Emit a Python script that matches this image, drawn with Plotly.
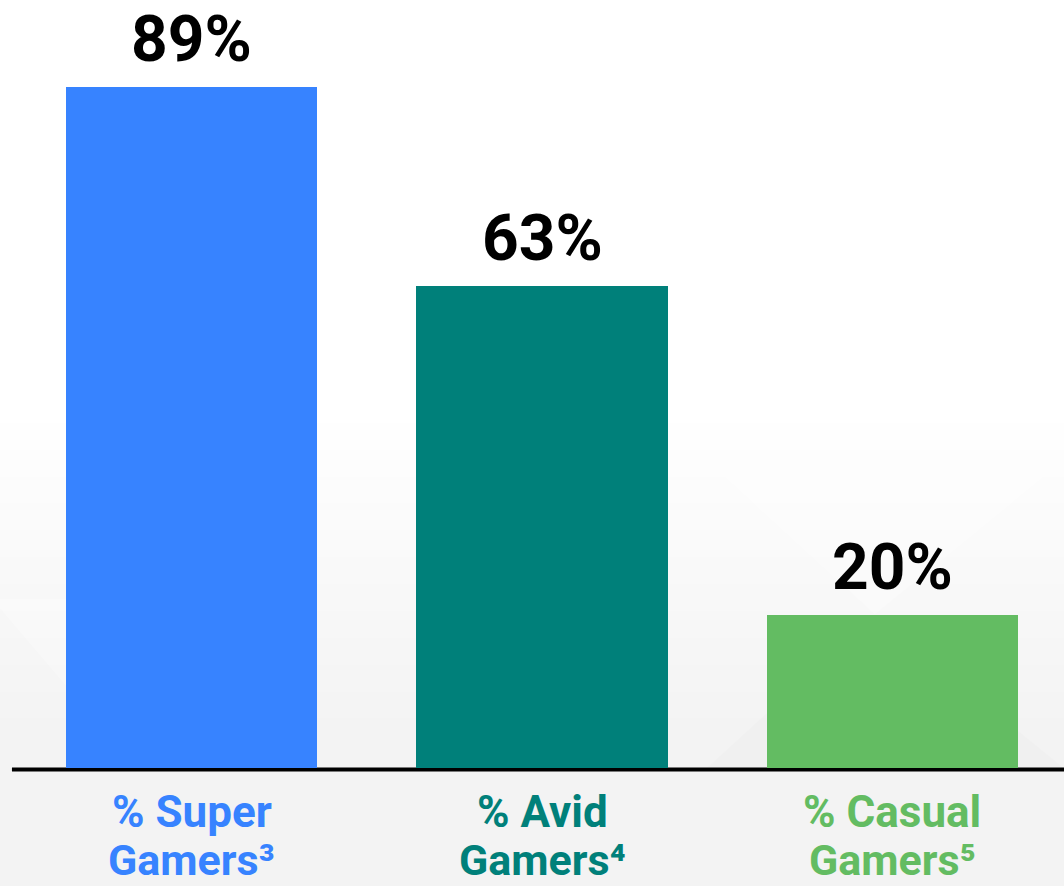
import plotly.graph_objects as go

categories = ["Super", "Avid", "Casual"]
values = [89, 63, 20]
line1_labels = ["% Super", "% Avid", "% Casual"]
line2_labels = ["Gamers³", "Gamers⁴", "Gamers⁵"]
value_labels = ["89%", "63%", "20%"]
colors = ["#3783FF", "#00807A", "#63BC62"]

W, H = 1064, 886
fig = go.Figure()
fig.add_trace(go.Bar(
    x=categories, y=values, width=0.717,
    marker=dict(color=colors, line=dict(width=0)),
    hoverinfo="skip", showlegend=False,
))

annotations = []
for c, v, t in zip(categories, values, value_labels):
    annotations.append(dict(x=c, y=v, xref="x", yref="y", text=t, showarrow=False,
                            yanchor="bottom", yshift=8,
                            font=dict(family="Roboto", size=64, color="#000000", weight="bold")))
for c, l1, l2, col in zip(categories, line1_labels, line2_labels, colors):
    annotations.append(dict(x=c, y=0, xref="x", yref="paper", text=l1, showarrow=False,
                            yanchor="top", yshift=-16,
                            font=dict(family="Roboto", size=44, color=col, weight="bold")))
    annotations.append(dict(x=c, y=0, xref="x", yref="paper", text=l2, showarrow=False,
                            yanchor="top", yshift=-66, borderpad=0,
                            font=dict(family="Roboto", size=43, color=col, weight="bold")))

shapes = []
# soft grey wash in the lower part of the background (stacked translucent bands)
for i in range(12):
    top = 0.45 - i * 0.035
    shapes.append(dict(type="rect", xref="paper", yref="paper", x0=-0.02, x1=1.0,
                       y0=-0.16, y1=top, fillcolor="rgba(0,0,0,0.0045)",
                       line=dict(width=0), layer="below"))
# faint diagonal facets
shapes += [
    dict(type="path", xref="paper", yref="paper",
         path="M 0.62 0.45 L 0.82 0.20 L 1.0 0.40 L 1.0 0.45 Z",
         fillcolor="rgba(255,255,255,0.25)", line=dict(width=0), layer="below"),
    dict(type="path", xref="paper", yref="paper",
         path="M 0.66 0.0 L 0.82 0.20 L 1.0 0.0 Z",
         fillcolor="rgba(0,0,0,0.012)", line=dict(width=0), layer="below"),
    dict(type="path", xref="paper", yref="paper",
         path="M -0.02 0.22 L 0.08 0.06 L 0.20 0.22 Z",
         fillcolor="rgba(255,255,255,0.25)", line=dict(width=0), layer="below"),
    # baseline
    dict(type="line", xref="paper", yref="paper", x0=-0.001, x1=1.0, y0=-0.002, y1=-0.002,
         line=dict(color="#000000", width=4), layer="below"),
]

fig.update_layout(
    width=W, height=H,
    margin=dict(l=13, r=0, t=0, b=118),
    paper_bgcolor="#ffffff", plot_bgcolor="rgba(0,0,0,0)",
    bargap=0,
    xaxis=dict(range=[-0.51, 2.49], showticklabels=False, showgrid=False, zeroline=False,
               showline=False, ticks="", fixedrange=True),
    yaxis=dict(range=[0, 100.37], showticklabels=False, showgrid=False, zeroline=False,
               showline=False, ticks="", fixedrange=True),
    annotations=annotations,
    shapes=shapes,
)

fig.write_html("out.html", config={"displayModeBar": False})
